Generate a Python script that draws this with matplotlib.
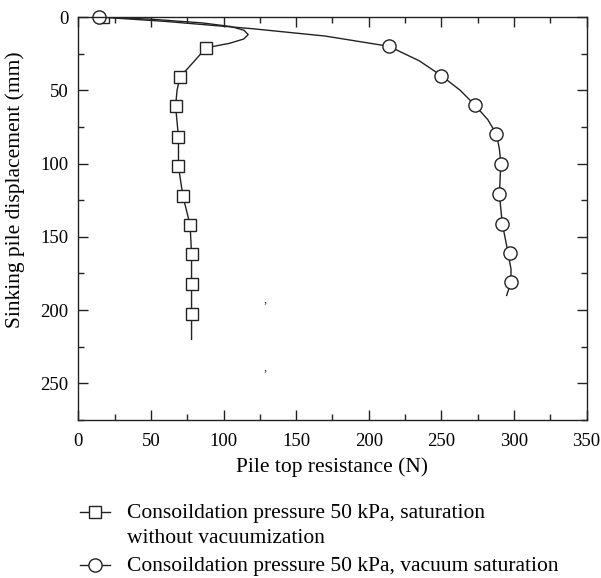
import matplotlib
matplotlib.use("Agg")
import matplotlib.pyplot as plt
from matplotlib.lines import Line2D
from matplotlib.ticker import MultipleLocator

plt.rcParams['font.family'] = ['Liberation Serif', 'DejaVu Serif']
plt.rcParams['mathtext.fontset'] = 'stix'

# Series 1: without vacuumization (squares)
sq_line_x = [17, 50, 85, 105, 114, 117, 114, 104, 88, 80, 70, 68, 67, 69, 69, 72, 77, 78, 78, 78, 78]
sq_line_y = [0, 1.5, 4, 6.5, 9, 12, 15, 18, 21, 30, 41, 50, 61, 82, 102, 122, 142, 162, 182, 203, 220]
sq_mark_x = [17, 88, 70, 67, 69, 69, 72, 77, 78, 78, 78]
sq_mark_y = [0, 21, 41, 61, 82, 102, 122, 142, 162, 182, 203]

# Series 2: vacuum saturation (circles)
ci_line_x = [14, 60, 120, 170, 214, 235, 250, 263, 273, 282, 288, 290, 291, 290, 292, 296, 298, 298, 295]
ci_line_y = [0, 3, 8, 13, 20, 30, 40, 50, 60, 70, 80, 90, 100, 121, 141, 161, 172, 181, 190]
ci_mark_x = [14, 214, 250, 273, 288, 291, 290, 292, 297, 298]
ci_mark_y = [0, 20, 40, 60, 80, 100, 121, 141, 161, 181]

labels = [["Consoildation pressure 50 kPa, saturation", "without vacuumization"],
          ["Consoildation pressure 50 kPa, vacuum saturation"]]
markers = ['s', 'o']

W, H = 601, 578
fig = plt.figure(figsize=(W / 100, H / 100), dpi=100)
ax = fig.add_axes([78.3 / W, 1 - 420 / H, (586.5 - 78.3) / W, (420 - 17) / H])

ax.plot(sq_line_x, sq_line_y, color='#222222', lw=1.0)
ax.plot(sq_mark_x, sq_mark_y, ls='none', marker='s', ms=9, mfc='white', mec='#222222', mew=1.0)
ax.plot(ci_line_x, ci_line_y, color='#222222', lw=1.0)
ax.plot(ci_mark_x, ci_mark_y, ls='none', marker='o', ms=9.5, mfc='white', mec='#222222', mew=1.0, clip_on=False)

# stray marks in the original
ax.text(128.5, 193, ",", fontsize=9, ha='center', va='center', color='#333333')
ax.text(128.5, 239, ",", fontsize=9, ha='center', va='center', color='#333333')

ax.set_xlim(0, 350)
ax.set_ylim(275, 0)
ax.xaxis.set_major_locator(MultipleLocator(50))
ax.xaxis.set_minor_locator(MultipleLocator(25))
ax.yaxis.set_major_locator(MultipleLocator(50))
ax.yaxis.set_minor_locator(MultipleLocator(25))
ax.set_yticks([0, 50, 100, 150, 200, 250])
ax.tick_params(which='both', direction='in', top=True, right=True, labelsize=13.5, color='#222222')
ax.tick_params(which='major', length=7, width=1)
ax.tick_params(which='minor', length=4, width=1)
ax.tick_params(axis='x', which='major', pad=9)
ax.tick_params(axis='y', which='major', pad=7)
for s in ax.spines.values():
    s.set_linewidth(1.0)
    s.set_color('#222222')

ax.set_xlabel("Pile top resistance (N)", fontsize=15.5)
ax.xaxis.set_label_coords(0.5, -(467 - 420) / (420 - 17))
ax.xaxis.label.set_va('center')
ax.set_ylabel("Sinking pile displacement (mm)", fontsize=15.5)
ax.yaxis.set_label_coords(-(78.3 - 15) / (586.5 - 78.3), (420 - 190) / (420 - 17))
ax.yaxis.label.set_va('center')

# manual legend below the axes (baselines in pixels)
row_base = [[518, 543], [571]]
for mk, lines, ys in zip(markers, labels, row_base):
    y0 = 1 - (ys[0] - 6) / H
    fig.add_artist(Line2D([80 / W, 110 / W], [y0, y0], transform=fig.transFigure,
                          color='#222222', lw=1.0))
    fig.add_artist(Line2D([95 / W], [y0], transform=fig.transFigure, ls='none',
                          marker=mk, ms=9 if mk == 's' else 9.5, mfc='white',
                          mec='#222222', mew=1.0))
    for txt, yy in zip(lines, ys):
        fig.text(127 / W, 1 - yy / H, txt, fontsize=15.5, ha='left', va='baseline')

fig.savefig("out.png", dpi=100)
